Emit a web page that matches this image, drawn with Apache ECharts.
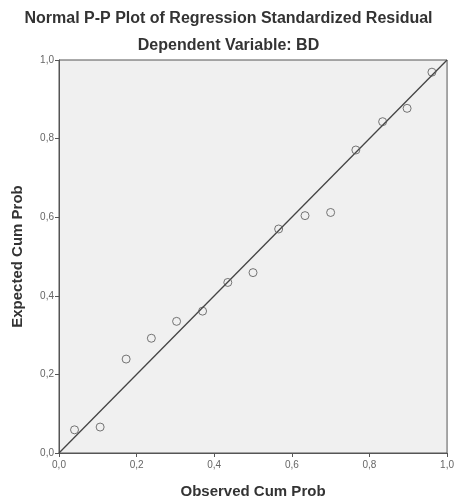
<!DOCTYPE html>
<html>
<head>
<meta charset="utf-8">
<script src="https://cdn.jsdelivr.net/npm/echarts@6/dist/echarts.min.js"></script>
<style>
html,body{margin:0;padding:0;background:#fff;}
#c{width:457px;height:504px;}
</style>
</head>
<body>
<div id="c"></div>
<script>
const observedCumProb = [0.04, 0.106, 0.173, 0.238, 0.303, 0.37, 0.435, 0.50, 0.566, 0.634, 0.70, 0.765, 0.834, 0.897, 0.961];
const expectedCumProb = [0.059, 0.066, 0.239, 0.292, 0.335, 0.361, 0.434, 0.459, 0.570, 0.604, 0.612, 0.771, 0.843, 0.877, 0.969];
const referenceLine = [[0, 0], [1, 1]];
const titleText = 'Normal P-P Plot of Regression Standardized Residual';
const subtitleText = 'Dependent Variable: BD';
const xAxisName = 'Observed Cum Prob';
const yAxisName = 'Expected Cum Prob';

const points = observedCumProb.map((x, i) => [x, expectedCumProb[i]]);
const fmt = v => v.toFixed(1).replace('.', ',');
const font = 'Liberation Sans, Arial, sans-serif';

const chart = echarts.init(document.getElementById('c'), null, {renderer: 'canvas'});
chart.setOption({
  animation: false,
  backgroundColor: '#ffffff',
  title: [
    {text: titleText, left: 'center', top: 6,
     textStyle: {fontFamily: font, fontSize: 16, fontWeight: 'bold', color: '#333'}},
    {text: subtitleText, left: 'center', top: 33,
     textStyle: {fontFamily: font, fontSize: 16, fontWeight: 'bold', color: '#333'}}
  ],
  grid: {left: 59, right: 5, top: 60, bottom: 50, containLabel: false,
         show: true, backgroundColor: '#f0f0f0', borderColor: '#555', borderWidth: 1},
  xAxis: {
    type: 'value', min: 0, max: 1, interval: 0.2,
    name: xAxisName, nameLocation: 'middle', nameGap: 31,
    nameTextStyle: {fontFamily: font, fontSize: 15, fontWeight: 'bold', color: '#333'},
    axisLine: {show: true, lineStyle: {color: '#555', width: 1}},
    axisTick: {show: true, length: 4, lineStyle: {color: '#555'}},
    axisLabel: {formatter: fmt, fontFamily: font, fontSize: 10, color: '#666', margin: 7},
    splitLine: {show: false}
  },
  yAxis: {
    type: 'value', min: 0, max: 1, interval: 0.2,
    name: yAxisName, nameLocation: 'middle', nameGap: 34, nameRotate: 90,
    nameTextStyle: {fontFamily: font, fontSize: 15, fontWeight: 'bold', color: '#333'},
    axisLine: {show: true, lineStyle: {color: '#555', width: 1}},
    axisTick: {show: true, length: 4, lineStyle: {color: '#555'}},
    axisLabel: {formatter: fmt, fontFamily: font, fontSize: 10, color: '#666', margin: 5},
    splitLine: {show: false}
  },
  series: [
    {type: 'line', data: referenceLine, showSymbol: false, symbol: 'none',
     lineStyle: {color: '#444', width: 1.3}, silent: true, z: 2},
    {type: 'scatter', data: points, symbol: 'circle', symbolSize: 8,
     itemStyle: {color: 'rgba(0,0,0,0)', borderColor: '#555', borderWidth: 1}, z: 3}
  ]
});
</script>
</body>
</html>
